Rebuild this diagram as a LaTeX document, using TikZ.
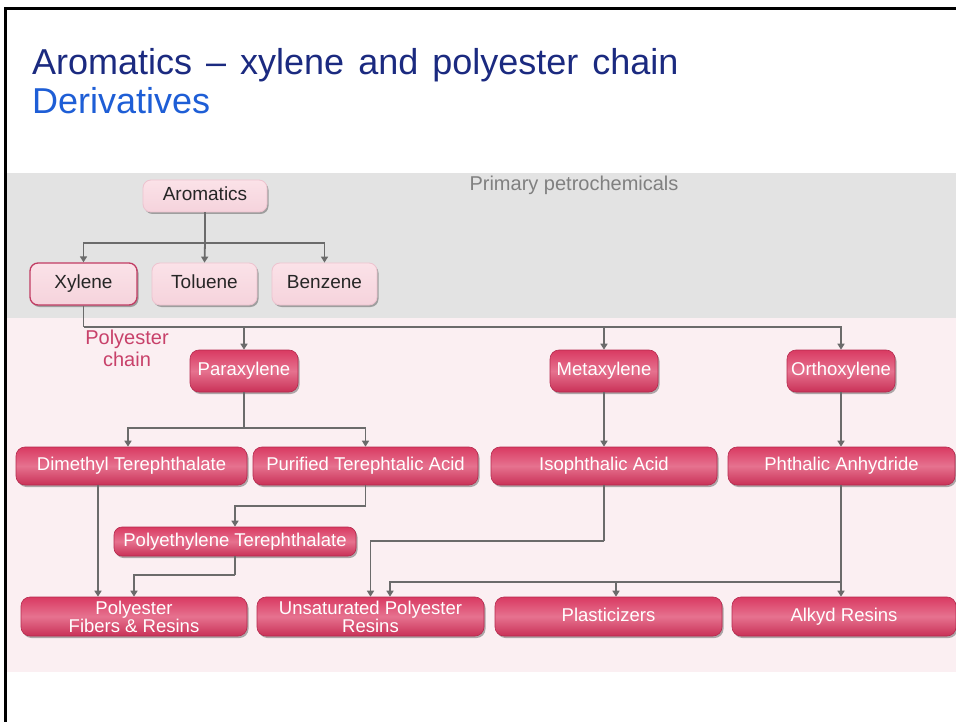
\documentclass[tikz,border=0pt]{standalone}
\usepackage{fontspec}
\setmainfont{Liberation Sans}
\newfontfamily\headfont[WordSpace=1.4]{Liberation Sans}
\usetikzlibrary{arrows.meta,shadows}

\definecolor{navy}{HTML}{1B2A80}
\definecolor{subblue}{HTML}{1E5ED6}
\definecolor{bandgray}{HTML}{E3E3E3}
\definecolor{bandpink}{HTML}{FBEFF2}
\definecolor{linegray}{HTML}{6B6B6B}
\definecolor{chainpink}{HTML}{C8416A}
\definecolor{darktop}{HTML}{D93A62}
\definecolor{darkmid}{HTML}{E6728F}
\definecolor{darkbot}{HTML}{C93157}
\definecolor{darkedge}{HTML}{B52A4E}
\definecolor{lighttop}{HTML}{FBE2E8}
\definecolor{lightbot}{HTML}{F5D3DC}
\definecolor{lightedge}{HTML}{EDC3CF}
\definecolor{xyledge}{HTML}{C13C63}

\tikzset{
  boxshadow/.style={drop shadow={shadow xshift=1.5pt, shadow yshift=-2pt,
      opacity=0.45, fill=black!70}},
  oneline/.style={text height=13.5pt, text depth=4pt},
  lightbox/.style={rounded corners=8pt, draw=lightedge, line width=0.8pt,
      top color=lighttop, bottom color=lightbot, boxshadow, oneline,
      inner sep=0pt, minimum height=42pt, text=black!85,
      font=\fontsize{19}{20}\selectfont},
  darkbox/.style={rounded corners=9pt, draw=darkedge, line width=0.6pt,
      top color=darktop, bottom color=darkbot, middle color=darkmid, boxshadow,
      inner sep=0pt, minimum height=38pt, text=white, align=center,
      font=\fontsize{18.5}{18}\selectfont},
  conn/.style={draw=linegray, line width=1.8pt},
  arr/.style={conn, -{Triangle[length=6pt,width=7pt]}},
}

\begin{document}
\begin{tikzpicture}[x=1pt,y=-1pt]
\useasboundingbox (0,0) rectangle (956,722);

% background bands
\fill[white] (0,0) rectangle (956,722);
\fill[bandgray] (6,173) rectangle (956,318);
\fill[bandpink] (6,318) rectangle (956,672);
\draw[black, line width=3pt] (5,722) -- (5,9) -- (956,9);

% headings
\node[anchor=base west, text=navy, font=\headfont\fontsize{36}{38}\selectfont, inner sep=0pt]
  (title) at (32,75) {Aromatics – xylene and polyester chain};
\node[anchor=base west, text=subblue, font=\headfont\fontsize{36}{38}\selectfont, inner sep=0pt]
  (subtitle) at (32,114) {Derivatives};

\node[text=black!50, font=\fontsize{20}{22}\selectfont, inner sep=0pt]
  (primary) at (574,185) {Primary petrochemicals};
\node[text=chainpink, align=center, font=\fontsize{20}{22}\selectfont, inner sep=0pt]
  (chain) at (127,348) {Polyester\\chain};

% primary petrochemicals
\node[lightbox, minimum width=124pt, minimum height=32pt] (arom) at (205,196) {Aromatics};
\node[lightbox, minimum width=107pt, draw=xyledge, line width=1.3pt] (xyl) at (83.5,284) {Xylene};
\node[lightbox, minimum width=105pt] (tol) at (204.5,284) {Toluene};
\node[lightbox, minimum width=105pt] (ben) at (324.5,284) {Benzene};

% xylene isomers
\node[darkbox, oneline, minimum width=108pt, minimum height=42pt] (para) at (244,371) {Paraxylene};
\node[darkbox, oneline, minimum width=108pt, minimum height=42pt] (meta) at (604,371) {Metaxylene};
\node[darkbox, oneline, minimum width=108pt, minimum height=42pt] (ortho) at (841,371) {Orthoxylene};

% intermediates
\node[darkbox, oneline, minimum width=231pt] (dmt) at (131.5,466) {Dimethyl Terephthalate};
\node[darkbox, oneline, minimum width=225pt] (pta) at (365.5,466) {Purified Terephtalic Acid};
\node[darkbox, oneline, minimum width=226pt] (ipa) at (604,466) {Isophthalic Acid};
\node[darkbox, oneline, minimum width=227pt] (pa) at (841.5,466) {Phthalic Anhydride};
\node[darkbox, oneline, minimum width=242pt, minimum height=29pt, rounded corners=8pt] (pet) at (235,541.5) {Polyethylene Terephthalate};

% end products
\node[darkbox, minimum width=226pt, minimum height=39pt] (pfr) at (134,616.5) {Polyester\\Fibers \& Resins};
\node[darkbox, minimum width=227pt, minimum height=39pt] (upr) at (370.5,616.5) {Unsaturated Polyester\\Resins};
\node[darkbox, oneline, minimum width=227pt, minimum height=39pt] (plas) at (608.5,616.5) {Plasticizers};
\node[darkbox, oneline, minimum width=224pt, minimum height=39pt] (alk) at (844,616.5) {Alkyd Resins};

% junction points
\coordinate (ja) at (205,243);
\coordinate (jb) at (83.5,327);
\coordinate (jc) at (244,428);
\coordinate (jd) at (365.5,506);
\coordinate (je) at (235,575);
\coordinate (jf) at (604,541);
\coordinate (jg) at (841,582);

% aromatics split
\draw[conn] (arom.south) -- (ja);
\draw[arr] (ja) -| (xyl.north);
\draw[arr] (ja) -- (tol.north);
\draw[arr] (ja) -| (ben.north);

% xylene isomers
\draw[conn] (xyl.south) -- (jb);
\draw[arr] (jb) -| (para.north);
\draw[arr] (jb) -| (meta.north);
\draw[arr] (jb) -| (ortho.north);

% paraxylene routes
\draw[conn] (para.south) -- (jc);
\draw[arr] (jc) -| ([xshift=-3.5pt]dmt.north);
\draw[arr] (jc) -| (pta.north);
\draw[conn] (pta.south) -- (jd);
\draw[arr] (jd) -| (pet.north);
\draw[conn] (pet.south) -- (je);
\draw[arr] (je) -| (pfr.north);
\draw[arr] ([xshift=-33.5pt]dmt.south) -- ([xshift=-36pt]pfr.north);

% metaxylene and orthoxylene routes
\draw[arr] (meta.south) -- (ipa.north);
\draw[arr] (ortho.south) -- (ortho.south |- pa.north);
\draw[conn] (ipa.south) -- (jf);
\draw[arr] (jf) -| (upr.north);
\draw[conn] (jg |- pa.south) -- (jg);
\draw[arr] (jg) -- (jg |- alk.north);
\draw[arr] (jg) -| ([xshift=19.5pt]upr.north);
\draw[arr] (jg) -| ([xshift=7.5pt]plas.north);
\end{tikzpicture}
\end{document}
